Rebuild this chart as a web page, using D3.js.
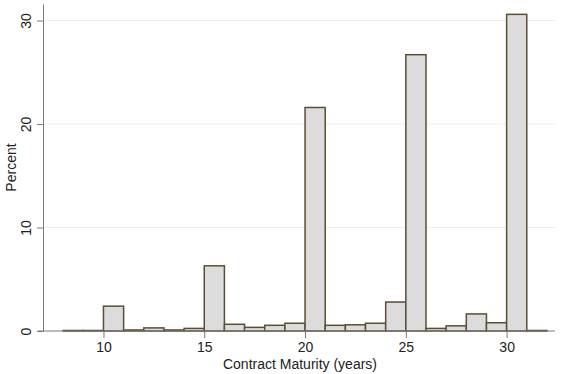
<!DOCTYPE html>
<html>
<head>
<meta charset="utf-8">
<script src="https://cdn.jsdelivr.net/npm/d3@7"></script>
<style>
  body { margin: 0; background: #fff; }
  text { font-family: "Liberation Sans", Arial, sans-serif; fill: #222; }
</style>
</head>
<body>
<svg id="chart" width="561" height="374"></svg>
<script>
// one bar per year of contract maturity, [year, year+1)
const years = [8, 9, 10, 11, 12, 13, 14, 15, 16, 17, 18, 19, 20, 21, 22, 23, 24, 25, 26, 27, 28, 29, 30, 31];
const percent = [0.05, 0.05, 2.4, 0.1, 0.3, 0.1, 0.25, 6.3, 0.65, 0.35, 0.55, 0.75, 21.6, 0.55, 0.6, 0.75, 2.8, 26.7, 0.25, 0.5, 1.65, 0.8, 30.6, 0.05];
const xTicks = [10, 15, 20, 25, 30];
const yTicks = [0, 10, 20, 30];

const svg = d3.select("#chart");

const x = d3.scaleLinear().domain([7, 32.4]).range([43, 555]);
const y = d3.scaleLinear().domain([0, 31.6]).range([331, 4]);

// grid
svg.append("g")
  .selectAll("line")
  .data(yTicks.filter(d => d > 0))
  .enter().append("line")
    .attr("x1", x(7) + 1)
    .attr("x2", x(32.4))
    .attr("y1", d => y(d))
    .attr("y2", d => y(d))
    .attr("stroke", "#eeeeee")
    .attr("stroke-width", 1);

// bars
svg.append("g")
  .selectAll("rect")
  .data(years.map((yr, i) => ({ yr, v: percent[i] })))
  .enter().append("rect")
    .attr("x", d => x(d.yr))
    .attr("y", d => y(d.v))
    .attr("width", d => x(d.yr + 1) - x(d.yr))
    .attr("height", d => y(0) - y(d.v))
    .attr("fill", "#dcdcdc")
    .attr("stroke", "#5c4e32")
    .attr("stroke-width", 1.5);

// x axis
const xAxis = svg.append("g")
  .attr("transform", `translate(0,${y(0)})`)
  .call(d3.axisBottom(x).tickValues(xTicks).tickSize(7).tickPadding(4).tickSizeOuter(0));
xAxis.select(".domain").attr("stroke", "#7a7a7a").attr("d", `M${x(7) - 5},0H${x(32.4)}`);
xAxis.selectAll(".tick line").attr("stroke", "#7a7a7a");
xAxis.selectAll(".tick text").attr("font-size", 14).attr("fill", "#222")
  .attr("font-family", "Liberation Sans, Arial, sans-serif");

// y axis
const yAxis = svg.append("g")
  .attr("transform", `translate(${x(7)},0)`)
  .call(d3.axisLeft(y).tickValues(yTicks).tickSize(6).tickSizeOuter(0));
yAxis.select(".domain").attr("stroke", "#7a7a7a");
yAxis.selectAll(".tick line").attr("stroke", "#7a7a7a");
yAxis.selectAll(".tick text")
  .attr("font-size", 14).attr("fill", "#222")
  .attr("font-family", "Liberation Sans, Arial, sans-serif")
  .attr("x", null).attr("dy", null)
  .attr("text-anchor", "middle")
  .attr("transform", "translate(-12,0) rotate(-90)");

// axis titles
svg.append("text")
  .attr("x", 300)
  .attr("y", 369)
  .attr("text-anchor", "middle")
  .attr("font-size", 14)
  .text("Contract Maturity (years)");

svg.append("text")
  .attr("transform", `translate(16,${y(15.8)}) rotate(-90)`)
  .attr("text-anchor", "middle")
  .attr("font-size", 14)
  .text("Percent");
</script>
</body>
</html>
